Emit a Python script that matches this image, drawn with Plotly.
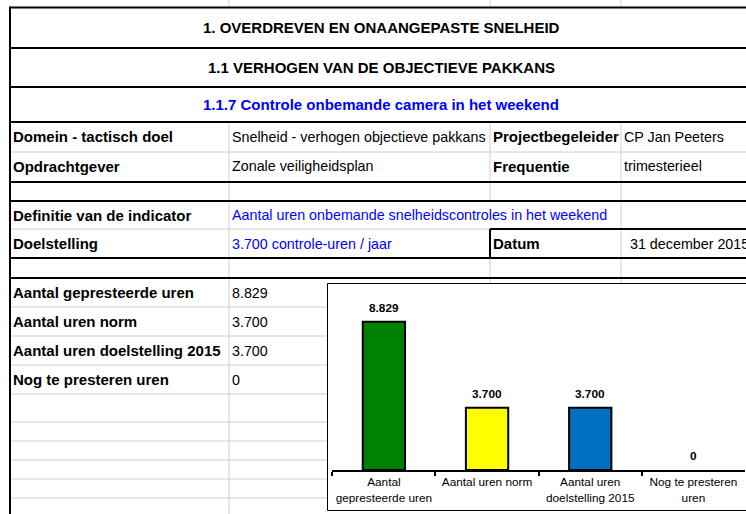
import plotly.graph_objects as go

# ---------------- data ----------------
categories = ["Aantal<br>gepresteerde uren", "Aantal uren norm",
              "Aantal uren<br>doelstelling 2015", "Nog te presteren<br>uren"]
values = [8829, 3700, 3700, 0]
row_labels = ["Aantal gepresteerde uren", "Aantal uren norm",
              "Aantal uren doelstelling 2015", "Nog te presteren uren"]
headers = ["1. OVERDREVEN EN ONAANGEPASTE SNELHEID",
           "1.1 VERHOGEN VAN DE OBJECTIEVE PAKKANS",
           "1.1.7 Controle onbemande camera in het weekend"]
info_rows = [
    ["Domein - tactisch doel", "Snelheid - verhogen objectieve pakkans", "Projectbegeleider", "CP Jan Peeters"],
    ["Opdrachtgever", "Zonale veiligheidsplan", "Frequentie", "trimesterieel"],
    ["Definitie van de indicator", "Aantal uren onbemande snelheidscontroles in het weekend", "", ""],
    ["Doelstelling", "3.700 controle-uren / jaar", "Datum", "31 december 2015"],
]
y_max = 10000

# ---------------- layout helpers ----------------
W, H = 746, 514
def X(px):
    return px / W
def Y(py):
    return 1 - py / H

FONT = "Liberation Sans, Arial, sans-serif"
BLUE = "#0000FF"
GRID = "#D0D0D0"
TS_BOLD = 15.0
TS_REG = 14.3
bar_colors = ["#008000", "#FFFF00", "#0070C0", "#FFFFFF"]
bar_lines = [2, 2, 2, 0]

def fmt(v):
    return f"{v:,}".replace(",", ".")

fig = go.Figure()
fig.add_trace(go.Bar(
    x=categories, y=values,
    marker=dict(color=bar_colors, line=dict(color="black", width=bar_lines)),
    width=0.41, hoverinfo="skip", showlegend=False,
))

# value labels above bars
for c, v in zip(categories, values):
    fig.add_annotation(x=c, y=v, xref="x", yref="y", text=f"<b>{fmt(v)}</b>",
                       showarrow=False, yshift=14, yanchor="middle",
                       font=dict(family=FONT, size=11.8, color="black"))

shapes = []
def hline(y, x0, x1, thick):
    shapes.append(dict(type="line", xref="paper", yref="paper",
                       x0=X(x0), x1=X(x1), y0=Y(y), y1=Y(y),
                       line=dict(color="black" if thick else GRID, width=2 if thick else 1)))
def vline(x, y0, y1, thick):
    shapes.append(dict(type="line", xref="paper", yref="paper",
                       x0=X(x), x1=X(x), y0=Y(y0), y1=Y(y1),
                       line=dict(color="black" if thick else GRID, width=2 if thick else 1)))

LEFT, C1, C2, C3, RIGHT = 10, 229, 490, 621, 748
# light vertical grid
for cx in (C1, C2, C3):
    vline(cx, 0, 7.5, False)
vline(C1, 122, 514, False)
vline(C2, 122, 201, False)
vline(C2, 258, 283, False)
vline(C3, 122, 283, False)
# light horizontals
hline(152, LEFT, RIGHT, False)
hline(229, LEFT, C2, False)
for yy in (307, 336, 365, 394, 422, 441, 460, 479, 498):
    hline(yy, LEFT, 327, False)
# thick borders
for yy in (7.5, 48, 87, 122, 182, 201, 258, 278):
    hline(yy, LEFT, RIGHT, True)
hline(229, C2, RIGHT, True)
vline(C2, 229, 258, True)
vline(LEFT, 6.5, 514, True)
# chart box
shapes.append(dict(type="rect", xref="paper", yref="paper",
                   x0=X(327.5), x1=X(760), y0=Y(283.5), y1=Y(510.5),
                   line=dict(color="black", width=1), fillcolor="rgba(0,0,0,0)"))

annotations = []
def txt(x, y, s, anchor="left", bold=False, color="black"):
    annotations.append(dict(x=X(x), y=Y(y), xref="paper", yref="paper",
                            text=f"<b>{s}</b>" if bold else s, showarrow=False,
                            xanchor=anchor, yanchor="middle",
                            font=dict(family=FONT, size=TS_BOLD if bold else TS_REG, color=color)))

header_y = [27.5, 67.5, 104.5]
for i, (h, hy) in enumerate(zip(headers, header_y)):
    txt(381, hy, h, anchor="center", bold=True, color=BLUE if i == 2 else "black")

info_y = [137, 166.5, 215, 243.5]
date_x = [622, 622, 622, 628]
for r, (row, ry) in enumerate(zip(info_rows, info_y)):
    txt(11, ry, row[0], bold=True)
    txt(230, ry, row[1], color=BLUE if r >= 2 else "black")
    if row[2]:
        txt(491, ry, row[2], bold=True)
    if row[3]:
        txt(date_x[r], ry, row[3])

data_y = [292.5, 321.5, 350.5, 379.5]
for lab, v, ry in zip(row_labels, values, data_y):
    txt(11, ry, lab, bold=True)
    txt(230, ry, fmt(v))

for a in annotations:
    fig.add_annotation(**a)

fig.update_layout(
    width=W, height=H, autosize=False,
    margin=dict(l=0, r=0, t=0, b=0, pad=0),
    paper_bgcolor="white", plot_bgcolor="rgba(0,0,0,0)",
    shapes=shapes, showlegend=False,
    font=dict(family=FONT, color="black"),
    xaxis=dict(domain=[X(332.3), X(745)], type="category", automargin=False,
               tickangle=0,
               showline=True, linecolor="black", linewidth=2,
               ticks="outside", tickson="boundaries", ticklen=4, tickwidth=2, tickcolor="black",
               showgrid=False, zeroline=False, fixedrange=True,
               tickfont=dict(family=FONT, size=11.8, color="black")),
    yaxis=dict(domain=[Y(470), Y(302)], range=[0, y_max], visible=False, automargin=False,
               showgrid=False, zeroline=False, fixedrange=True),
)

fig.write_html("out.html", config={"displayModeBar": False},
               post_script="document.body.style.margin='0';document.body.style.overflow='hidden';")
